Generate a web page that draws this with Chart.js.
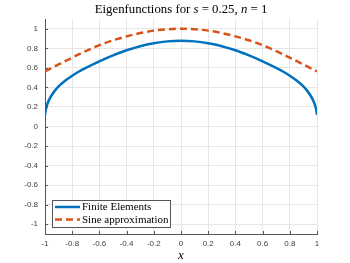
<!DOCTYPE html>
<html>
<head>
<meta charset="utf-8">
<script src="https://cdn.jsdelivr.net/npm/chart.js@4.4.0/dist/chart.umd.min.js"></script>
<style>
  html, body { margin: 0; padding: 0; background: #fff; }
  canvas { display: block; }
</style>
</head>
<body>
<canvas id="myChart" width="350" height="263"></canvas>
<script>
// values
var feX = [-1, -0.995, -0.99, -0.98, -0.97, -0.95, -0.93, -0.9, -0.85, -0.8, -0.75, -0.7, -0.6, -0.5, -0.4, -0.3, -0.2, -0.1, 0,
           0.1, 0.2, 0.3, 0.4, 0.5, 0.6, 0.7, 0.75, 0.8, 0.85, 0.9, 0.93, 0.95, 0.97, 0.98, 0.99, 0.995, 1];
var feY = [0.12, 0.165, 0.195, 0.24, 0.272, 0.322, 0.362, 0.41, 0.47, 0.52, 0.563, 0.6, 0.667, 0.727, 0.78, 0.822, 0.852, 0.871, 0.877,
           0.871, 0.852, 0.822, 0.78, 0.727, 0.667, 0.6, 0.563, 0.52, 0.47, 0.41, 0.362, 0.322, 0.272, 0.24, 0.195, 0.165, 0.12];

var sineX = [-1, -0.9, -0.8, -0.7, -0.6, -0.5, -0.4, -0.3, -0.2, -0.1, 0, 0.1, 0.2, 0.3, 0.4, 0.5, 0.6, 0.7, 0.8, 0.9, 1];
var sineY = [0.564, 0.635, 0.705, 0.772, 0.832, 0.882, 0.922, 0.956, 0.981, 0.995, 1,
             0.995, 0.981, 0.956, 0.922, 0.882, 0.832, 0.772, 0.705, 0.635, 0.564];

var xTicks = [-1, -0.8, -0.6, -0.4, -0.2, 0, 0.2, 0.4, 0.6, 0.8, 1];
var yTicks = [-1, -0.8, -0.6, -0.4, -0.2, 0, 0.2, 0.4, 0.6, 0.8, 1];

var seriesLabels = ['Finite Elements', 'Sine approximation'];

function toPoints(xs, ys) {
    return xs.map(function (x, i) { return { x: x, y: ys[i] }; });
}

function tickLabel(v) {
    return String(Math.round(v * 10) / 10);
}

var serif = '"Liberation Serif", "DejaVu Serif", serif';

// titel, x-label, inward ticks and the boxed legend
var decorPlugin = {
    id: 'decor',
    afterDraw: function (chart) {
        var ctx = chart.ctx;
        var area = chart.chartArea;
        var xs = chart.scales.x;
        var ys = chart.scales.y;

        ctx.save();
        // inward tick marks
        ctx.strokeStyle = '#555';
        ctx.lineWidth = 1;
        ctx.beginPath();
        xTicks.forEach(function (v) {
            var px = Math.round(xs.getPixelForValue(v)) + 0.5;
            ctx.moveTo(px, area.bottom);
            ctx.lineTo(px, area.bottom - 3);
        });
        yTicks.forEach(function (v) {
            var py = Math.round(ys.getPixelForValue(v)) + 0.5;
            ctx.moveTo(area.left, py);
            ctx.lineTo(area.left + 3, py);
        });
        ctx.stroke();

        // title with italic symbols
        var parts = [
            ['Eigenfunctions for ', false], ['s', true], [' = 0.25, ', false], ['n', true], [' = 1', false]
        ];
        var size = 12.8;
        var total = 0;
        parts.forEach(function (p) {
            ctx.font = (p[1] ? 'italic ' : '') + size + 'px ' + serif;
            total += ctx.measureText(p[0]).width;
        });
        var cx = (area.left + area.right) / 2;
        var tx = cx - total / 2;
        ctx.fillStyle = '#000';
        ctx.textBaseline = 'middle';
        ctx.textAlign = 'left';
        parts.forEach(function (p) {
            ctx.font = (p[1] ? 'italic ' : '') + size + 'px ' + serif;
            ctx.fillText(p[0], tx, 9.5);
            tx += ctx.measureText(p[0]).width;
        });

        // x axis label
        ctx.font = 'italic 13px ' + serif;
        ctx.textAlign = 'center';
        ctx.fillText('x', cx, 256);

        // legend box
        var lx = 52.5, ly = 200.5, lw = 118, lh = 27;
        ctx.fillStyle = '#fff';
        ctx.fillRect(lx, ly, lw, lh);
        ctx.strokeStyle = '#555';
        ctx.lineWidth = 1;
        ctx.strokeRect(lx, ly, lw, lh);

        var rows = [207, 219.5];
        ctx.font = '11px ' + serif;
        ctx.textAlign = 'left';
        chart.data.datasets.forEach(function (ds, i) {
            ctx.strokeStyle = ds.borderColor;
            ctx.lineWidth = ds.borderWidth;
            ctx.setLineDash(ds.borderDash || []);
            ctx.beginPath();
            ctx.moveTo(55, rows[i]);
            ctx.lineTo(80, rows[i]);
            ctx.stroke();
            ctx.setLineDash([]);
            ctx.fillStyle = '#000';
            ctx.fillText(ds.label, 82, rows[i] + 0.5);
        });
        ctx.restore();
    }
};

function generateChart() {
    var ctx = document.getElementById('myChart').getContext('2d');

    new Chart(ctx, {
        type: 'line',
        data: {
            datasets: [
                {
                    label: seriesLabels[0],
                    data: toPoints(feX, feY),
                    borderColor: '#0072BD',
                    borderWidth: 2.5,
                    pointRadius: 0,
                    cubicInterpolationMode: 'monotone',
                    fill: false
                },
                {
                    label: seriesLabels[1],
                    data: toPoints(sineX, sineY),
                    borderColor: '#D95319',
                    borderWidth: 2.5,
                    borderDash: [7, 4],
                    pointRadius: 0,
                    cubicInterpolationMode: 'monotone',
                    fill: false
                }
            ]
        },
        options: {
            responsive: false,
            animation: false,
            devicePixelRatio: 1,
            layout: {
                padding: { top: 19, right: 33, left: 0, bottom: 0 }
            },
            plugins: {
                legend: { display: false },
                title: { display: false },
                tooltip: { enabled: false }
            },
            scales: {
                x: {
                    type: 'linear',
                    min: -1,
                    max: 1,
                    afterBuildTicks: function (scale) {
                        scale.ticks = xTicks.map(function (v) { return { value: v }; });
                    },
                    afterFit: function (scale) { scale.height = 29; },
                    grid: { color: '#e6e6e6', drawTicks: false },
                    border: { color: '#555', width: 1 },
                    ticks: {
                        padding: 5,
                        color: '#404040',
                        font: { family: '"Liberation Sans", Arial, sans-serif', size: 8 },
                        maxRotation: 0,
                        callback: tickLabel
                    }
                },
                y: {
                    min: -1.1,
                    max: 1.1,
                    afterBuildTicks: function (scale) {
                        scale.ticks = yTicks.map(function (v) { return { value: v }; });
                    },
                    afterFit: function (scale) { scale.width = 45; },
                    grid: { color: '#e6e6e6', drawTicks: false },
                    border: { color: '#555', width: 1 },
                    ticks: {
                        padding: 7,
                        color: '#404040',
                        font: { family: '"Liberation Sans", Arial, sans-serif', size: 8 },
                        callback: tickLabel
                    }
                }
            }
        },
        plugins: [decorPlugin]
    });
}

document.addEventListener('DOMContentLoaded', generateChart);
</script>
</body>
</html>
